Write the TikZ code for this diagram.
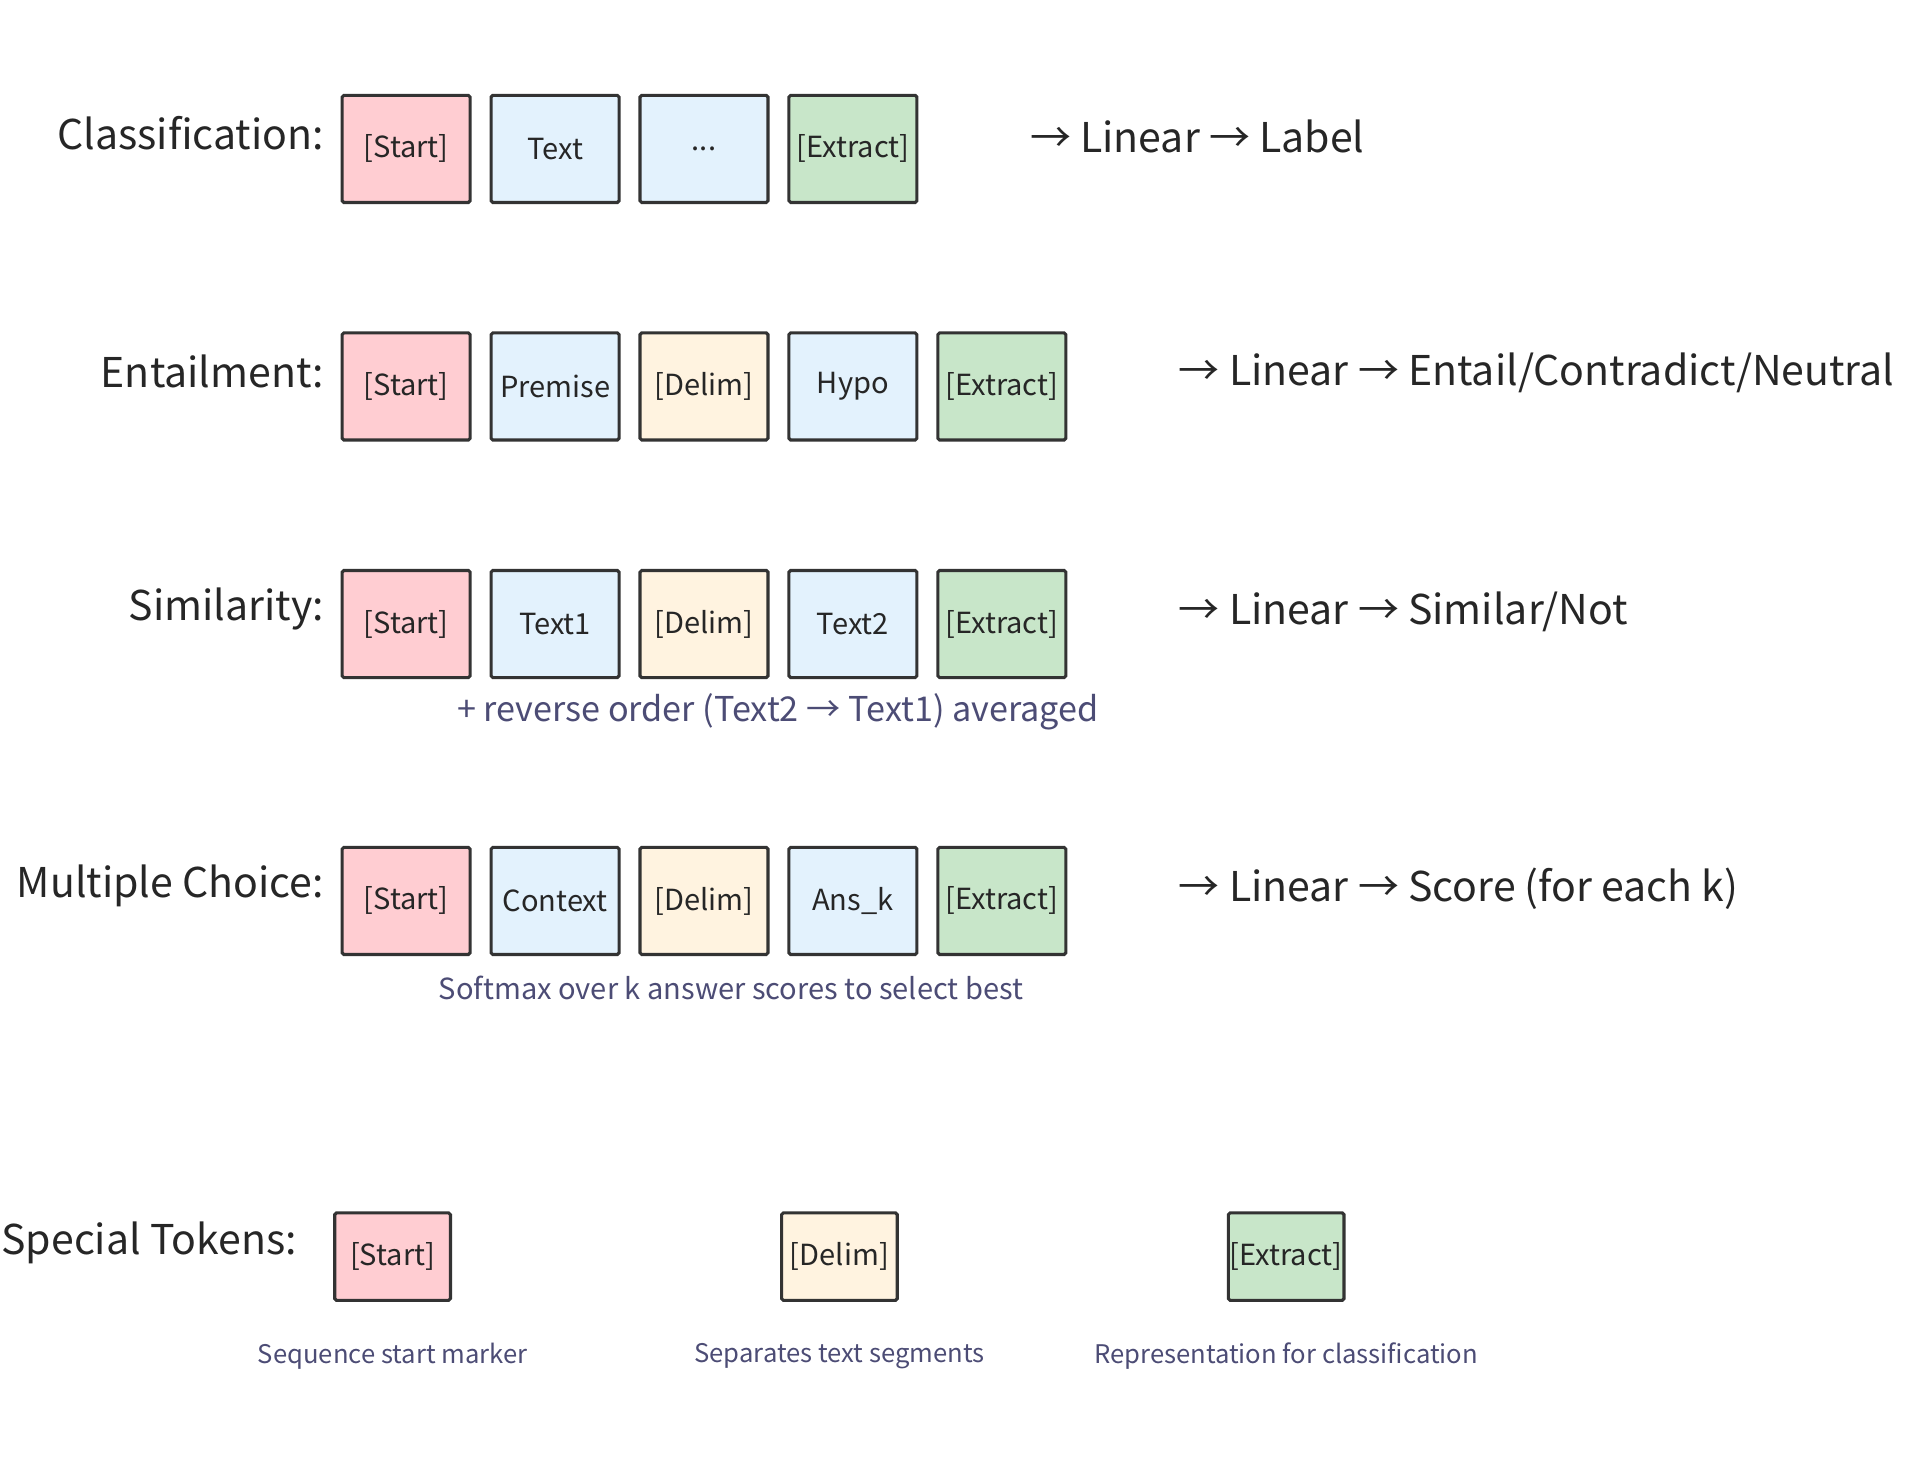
\documentclass[tikz,border=0pt]{standalone}
\usepackage{fontspec}
\setmainfont{Noto Sans CJK KR}
\begin{document}
\begin{tikzpicture}[x=0.72pt,y=-0.72pt,
  tok/.style={draw=black!80,line width=1.8pt,rounded corners=1pt,minimum width=104*0.72pt,minimum height=87*0.72pt,inner sep=0pt,font=\fontsize{17}{20}\selectfont,text=black!85},
  stok/.style={tok,minimum width=94*0.72pt,minimum height=71*0.72pt},
  pk/.style={fill=red!20!pink!80},
  bl/.style={fill=blue!10!cyan!5},
  cr/.style={fill=orange!12},
  gr/.style={fill=green!60!black!20},
  rowlab/.style={anchor=east,font=\fontsize{24}{28}\selectfont,text=black!85},
  outlab/.style={anchor=west,font=\fontsize{24}{28}\selectfont,text=black!85},
  note/.style={font=\fontsize{17}{20}\selectfont,text=black!60!blue!40!gray}]
\useasboundingbox (0,0) rectangle (1560,1186);
\colorlet{pkc}{red!20}
\tikzset{pk/.style={fill={rgb,255:red,255;green,205;blue,210}},
 bl/.style={fill={rgb,255:red,227;green,242;blue,253}},
 cr/.style={fill={rgb,255:red,255;green,243;blue,224}},
 gr/.style={fill={rgb,255:red,200;green,230;blue,201}}}
% Row 1
\node[rowlab] (l1) at (268,108) {Classification:};
\node[tok,pk] (a1) at (330,121) {[Start]};
\node[tok,bl] (a2) at (451,121) {Text};
\node[tok,bl] (a3) at (572,121) {...};
\node[tok,gr] (a4) at (693,121) {[Extract]};
\node[outlab] (o1) at (832,111) {→ Linear → Label};
% Row 2
\node[rowlab] (l2) at (268,302) {Entailment:};
\node[tok,pk] (b1) at (330,314) {[Start]};
\node[tok,bl] (b2) at (451,314) {Premise};
\node[tok,cr] (b3) at (572,314) {[Delim]};
\node[tok,bl] (b4) at (693,314) {Hypo};
\node[tok,gr] (b5) at (814,314) {[Extract]};
\node[outlab] (o2) at (953,303) {→ Linear → Entail/Contradict/Neutral};
% Row 3
\node[rowlab] (l3) at (268,495) {Similarity:};
\node[tok,pk] (c1) at (330,507) {[Start]};
\node[tok,bl] (c2) at (451,507) {Text1};
\node[tok,cr] (c3) at (572,507) {[Delim]};
\node[tok,bl] (c4) at (693,507) {Text2};
\node[tok,gr] (c5) at (814,507) {[Extract]};
\node[outlab] (o3) at (953,497) {→ Linear → Similar/Not};
\node[note,font=\fontsize{20}{24}\selectfont\itshape] (n3) at (632,578) {+ reverse order (Text2 → Text1) averaged};
% Row 4
\node[rowlab] (l4) at (268,720) {Multiple Choice:};
\node[tok,pk] (d1) at (330,732) {[Start]};
\node[tok,bl] (d2) at (451,732) {Context};
\node[tok,cr] (d3) at (572,732) {[Delim]};
\node[tok,bl] (d4) at (693,732) {Ans\_k};
\node[tok,gr] (d5) at (814,732) {[Extract]};
\node[outlab] (o4) at (953,722) {→ Linear → Score (for each k)};
\node[note] (n4) at (594,803) {Softmax over k answer scores to select best};
% Special tokens
\node[rowlab] (l5) at (246,1010) {Special Tokens:};
\node[stok,pk] (s1) at (319,1021) {[Start]};
\node[stok,cr] (s2) at (682,1021) {[Delim]};
\node[stok,gr] (s3) at (1045,1021) {[Extract]};
\node[note,font=\fontsize{15}{18}\selectfont] (t1) at (319,1102) {Sequence start marker};
\node[note,font=\fontsize{15}{18}\selectfont] (t2) at (682,1102) {Separates text segments};
\node[note,font=\fontsize{15}{18}\selectfont] (t3) at (1045,1102) {Representation for classification};
\end{tikzpicture}
\end{document}
